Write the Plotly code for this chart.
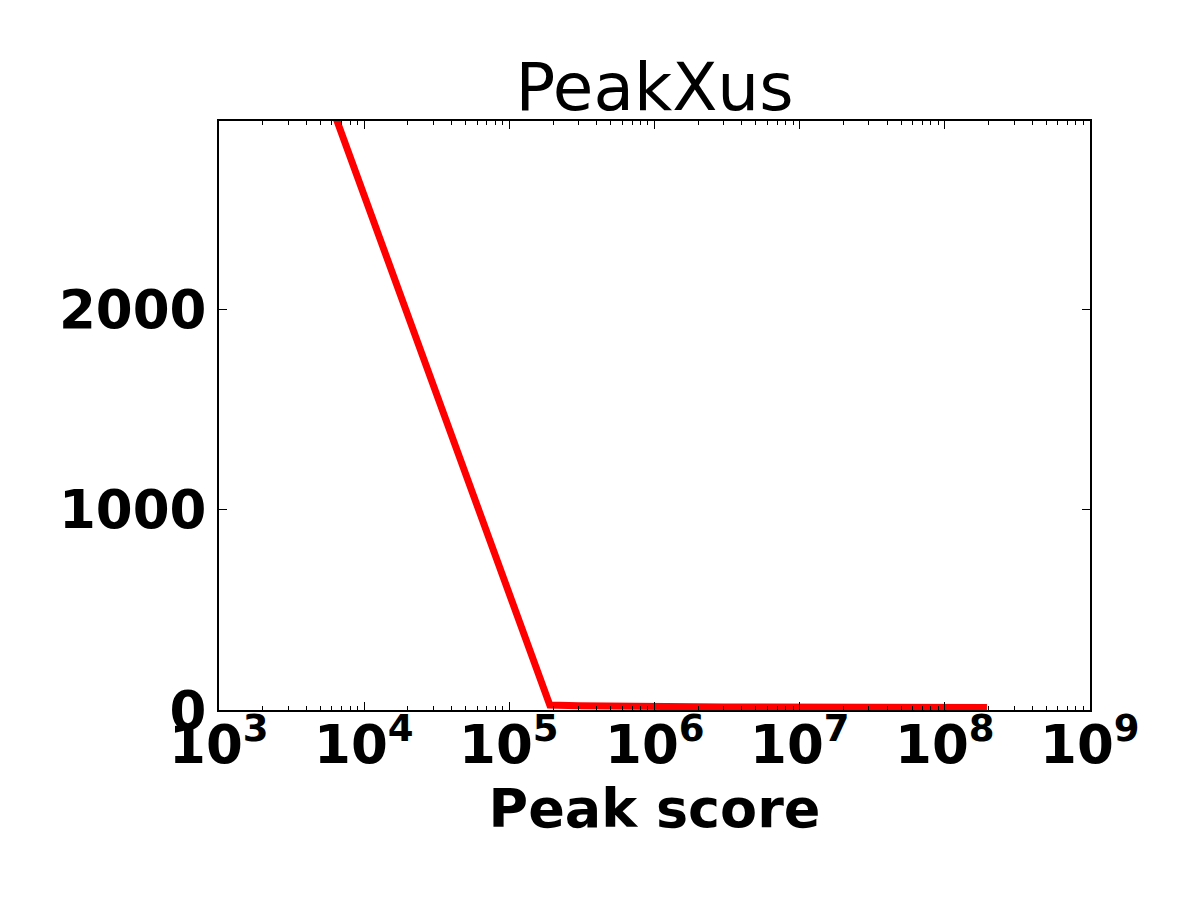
import math
import plotly.graph_objects as go

# data (peak score vs count)
peak_score = [6000, 1.9e5, 3e5, 5e5, 8e5, 1.2e6, 2e6, 3e6, 5e6, 1e7, 2e7, 5e7, 1e8, 1.95e8]
peak_count = [3010, 25, 21, 18, 16, 15, 16, 15, 15, 14, 14, 14, 13, 12]

x_tickvals = [1e3, 1e4, 1e5, 1e6, 1e7, 1e8, 1e9]
x_ticktext = ['10<sup>3</sup>', '10<sup>4</sup>', '10<sup>5</sup>', '10<sup>6</sup>',
              '10<sup>7</sup>', '10<sup>8</sup>', '10<sup>9</sup>']
y_tickvals = [0, 1000, 2000]
y_ticktext = ['0', '1000', '2000']

# minor ticks 2..9 in every decade
minor_vals = [m * 10 ** e for e in range(3, 9) for m in range(2, 10)]

fig = go.Figure()
fig.add_trace(go.Scatter(x=peak_score, y=peak_count, mode='lines',
                         line=dict(color='red', width=7), showlegend=False))

# x tick labels as annotations so they sit close to the axis like matplotlib
for v, t in zip(x_tickvals, x_ticktext):
    fig.add_annotation(x=math.log10(v), xref='x', y=0, yref='paper',
                       text=t, showarrow=False, xanchor='center', yanchor='top',
                       yshift=5, font=dict(size=53, weight='bold', color='black'))

fig.update_layout(
    width=1200, height=900,
    paper_bgcolor='white', plot_bgcolor='white',
    margin=dict(l=211, r=118, t=113, b=198),
    font=dict(family='DejaVu Sans', color='black'),
    title=dict(text='PeakXus', x=0.5, xref='paper', xanchor='center',
               y=1 - 79 / 900, yanchor='middle', font=dict(size=66)),
)

fig.update_xaxes(type='log', range=[3, 9],
                 tickvals=x_tickvals, showticklabels=False,
                 ticks='inside', ticklen=8, tickwidth=1, tickcolor='black',
                 minor=dict(tickvals=minor_vals, ticks='inside', ticklen=4,
                            tickwidth=1, tickcolor='black', showgrid=False),
                 showline=True, linecolor='black', linewidth=2, mirror='allticks',
                 showgrid=False, zeroline=False,
                 title=dict(text='Peak score', font=dict(size=54, weight='bold'), standoff=78))

fig.update_yaxes(range=[0, 2940],
                 tickvals=y_tickvals, ticktext=y_ticktext,
                 ticks='inside', ticklen=8, tickwidth=1, tickcolor='black',
                 showline=True, linecolor='black', linewidth=2, mirror='allticks',
                 showgrid=False, zeroline=False, ticklabelstandoff=0,
                 tickfont=dict(size=53, weight='bold'))

fig.write_html("out.html")
